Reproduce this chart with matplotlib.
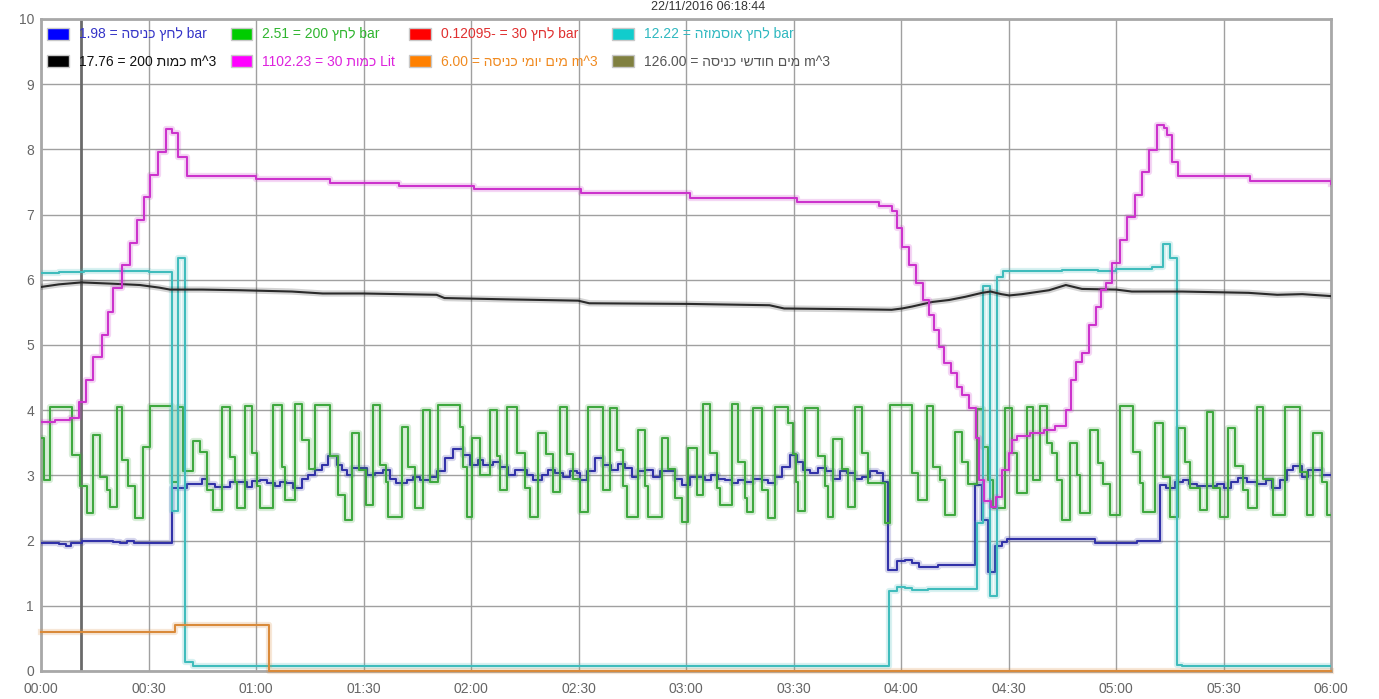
import matplotlib
matplotlib.use("Agg")
import matplotlib.pyplot as plt
import matplotlib.patheffects as pe
from matplotlib.patches import Patch

plt.rcParams['font.family'] = ['Liberation Sans', 'DejaVu Sans']


def vis(s):
    # hebrew in visual (left-to-right) order, matplotlib has no bidi
    return s[::-1]


# time in minutes from 00:00
tick_minutes = [0, 30, 60, 90, 120, 150, 180, 210, 240, 270, 300, 330, 360]
tick_labels = ["00:00", "00:30", "01:00", "01:30", "02:00", "02:30", "03:00",
               "03:30", "04:00", "04:30", "05:00", "05:30", "06:00"]
marker_time = 11.3
title_text = "22/11/2016 06:18:44"

# inlet pressure (blue)
blue_t = [0, 5.0, 7.0, 8.5, 11.5, 20, 22, 24, 26, 30, 36.6, 40.7, 44.8, 46.2, 48.6, 52.7,
          57.4, 58.8, 61.1, 63.0, 65.3, 66.7, 68.5, 70.4, 72.7, 74.6, 76.5, 78.3, 80.2,
          82.5, 83.9, 85.3, 86.7, 90.9, 93.2, 95.5, 97.4, 99.2, 102.0, 103.9, 105.7, 108.5,
          110.4, 112.7, 115.0, 117.8, 119.7, 122.0, 123.4, 126.2, 128.1, 130.4, 132.2,
          135.5, 137.4, 139.7, 141.5, 143.4, 145.7, 147.6, 149.5, 150.4, 152.3, 154.6,
          156.9, 159.2, 161.1, 163.0, 164.8, 166.7, 168.5, 170.9, 172.7, 176.9, 178.8,
          181.1, 185.3, 187.1, 189.0, 190.9, 192.7, 194.6, 196.4, 198.8, 201.1, 203.0,
          204.8, 206.7, 209.0, 210.9, 212.7, 214.6, 216.9, 219.2, 221.1, 222.9, 224.8,
          227.1, 229.0, 231.3, 233.2, 235.0, 236.4, 238.8, 241.0, 243.0, 245.0, 250.3,
          260.7, 262.6, 264.4, 266.3, 268.1, 269.5, 294.2, 305.8, 312.3, 314.0, 316.5,
          318.8, 320.5, 322.6, 328.2, 330.0, 332.0, 334.1, 336.5, 339.4, 341.8, 343.6,
          345.8, 347.7, 349.5, 352.0, 353.5, 357.5, 360]
blue_v = [1.96, 1.95, 1.92, 1.96, 2.0, 1.98, 1.96, 2.0, 1.97, 1.96, 2.80, 2.87, 2.95, 2.87,
          2.82, 2.9, 2.82, 2.92, 2.93, 2.88, 2.83, 2.90, 2.88, 2.80, 2.95, 3.01, 3.08, 3.16,
          3.29, 3.16, 3.08, 3.01, 3.11, 3.01, 3.03, 3.08, 2.95, 2.88, 2.93, 2.98, 2.93, 2.98,
          3.06, 3.26, 3.41, 3.31, 3.16, 3.24, 3.16, 3.21, 3.13, 3.01, 3.08, 3.01, 2.93, 3.01,
          3.08, 3.03, 2.98, 3.06, 3.03, 2.93, 3.06, 3.26, 3.16, 3.08, 3.18, 3.11, 2.98, 3.06,
          3.08, 2.98, 3.06, 2.95, 2.85, 2.98, 2.93, 3.01, 2.95, 2.93, 2.88, 2.93, 2.90, 2.95,
          2.93, 2.88, 2.98, 3.13, 3.31, 3.21, 3.08, 3.03, 3.11, 3.06, 2.95, 3.06, 3.03, 2.95,
          2.97, 3.06, 3.03, 2.90, 1.55, 1.68, 1.70, 1.65, 1.60, 1.63, 2.85, 2.32, 1.52, 1.91,
          1.98, 2.02, 1.97, 2.00, 2.85, 2.80, 2.90, 2.93, 2.87, 2.83, 2.87, 2.80, 2.90, 2.96,
          2.90, 2.87, 2.93, 2.80, 2.93, 3.08, 3.14, 2.98, 3.08, 3.00, 3.00]

# pressure 200 (green)
green_t = [0.0, 0.8, 2.5, 8.6, 10.9, 12.8, 14.5, 16.5, 18.4, 19.3, 21.1, 22.5, 24.3, 26.2,
           28.5, 30.4, 36.5, 38.2, 39.6, 42.4, 44.4, 46.3, 48.0, 50.5, 52.7, 54.0, 54.7,
           56.9, 58.9, 60.3, 61.0, 64.8, 67.2, 68.1, 70.9, 72.8, 74.8, 76.5, 80.7, 82.9,
           84.8, 86.8, 88.8, 90.7, 92.7, 94.6, 96.3, 96.8, 100.8, 102.4, 104.4, 106.6, 108.6,
           110.8, 116.9, 117.8, 118.9, 120.3, 122.5, 125.3, 127.3, 128.1, 130.1, 132.9,
           135.1, 136.5, 138.7, 140.9, 142.9, 144.9, 146.8, 148.5, 150.4, 152.7, 156.9,
           158.8, 160.8, 162.4, 163.6, 166.6, 168.6, 169.4, 173.3, 175.0, 177.0, 178.9,
           180.6, 183.1, 184.8, 186.7, 188.7, 189.5, 192.8, 194.6, 196.5, 197.0, 198.7,
           201.2, 202.9, 204.9, 208.5, 209.9, 210.6, 211.3, 213.2, 216.9, 218.8, 219.7,
           221.0, 223.6, 225.2, 227.2, 229.1, 230.8, 235.6, 237.0, 243.0, 244.8, 247.3,
           249.0, 250.9, 252.3, 255.1, 257.1, 258.7, 261.2, 262.9, 264.3, 265.7, 269.1,
           271.0, 272.4, 275.2, 276.9, 278.8, 280.8, 282.2, 283.6, 285.0, 287.2, 289.2,
           290.0, 292.8, 295.0, 296.4, 298.4, 301.1, 304.8, 306.7, 307.6, 310.9, 313.2,
           315.1, 317.3, 319.3, 320.7, 323.5, 325.3, 327.1, 329.1, 331.3, 333.2, 335.5,
           336.9, 339.4, 341.1, 343.9, 347.2, 351.4, 353.3, 355.0, 357.5, 358.9, 360]
green_v = [3.57, 2.93, 4.05, 3.31, 2.83, 2.42, 3.62, 2.98, 2.78, 2.52, 4.05, 3.23, 2.83, 2.35,
           3.44, 4.07, 2.9, 4.05, 3.07, 3.52, 3.36, 2.77, 2.47, 4.05, 3.28, 2.9, 2.5,
           4.07, 3.34, 2.83, 2.5, 4.08, 3.13, 2.62, 4.1, 3.54, 3.1, 4.08, 3.3, 2.7,
           2.32, 3.65, 3.08, 2.55, 4.08, 3.16, 2.9, 2.36, 3.74, 3.13, 2.5, 4.0, 2.9,
           4.08, 3.74, 3.13, 2.36, 3.57, 3.0, 4.0, 3.3, 2.78, 4.05, 3.35,
           2.8, 2.36, 3.65, 3.33, 2.75, 4.05, 3.33, 2.95, 2.44, 4.05, 2.78,
           4.03, 3.39, 2.83, 2.36, 3.7, 2.83, 2.36, 3.57, 3.1, 2.65, 2.28,
           3.42, 2.7, 4.1, 3.35, 2.8, 2.55, 4.1, 3.2, 2.65, 2.44, 4.03,
           2.78, 2.35, 4.05, 3.8, 3.33, 2.9, 2.45, 4.03, 3.3, 2.83, 2.36,
           3.56, 3.1, 2.52, 4.05, 3.35, 2.88, 2.27, 4.08, 3.04, 2.63, 4.06,
           3.13, 2.93, 2.39, 3.67, 3.2, 2.87, 4.02, 3.44, 2.93, 2.5, 4.04,
           3.34, 2.73, 4.05, 2.93, 4.06, 3.5, 3.35, 2.93, 2.32, 3.5, 3.0,
           2.42, 3.7, 3.19, 2.87, 2.39, 4.06, 3.36, 2.88, 2.44, 3.8, 2.98,
           2.36, 3.73, 3.2, 2.8, 2.47, 3.97, 2.8, 2.36, 3.73, 3.15, 2.77,
           2.5, 4.05, 2.95, 2.4, 4.05, 3.05, 2.4, 3.65, 2.9, 2.4, 2.4]

# pressure 30 (red) - below the visible range
red_t = [0, 360]
red_v = [-0.12095, -0.12095]

# osmosis pressure (cyan)
cyan_t = [0, 5, 12, 22, 30, 36.5, 38.2, 40.3, 42.4, 236.7, 238.8, 241.0, 243.2, 247.5,
          261.2, 262.9, 264.9, 266.8, 268.5, 285, 295, 300, 305, 310, 313.0, 315.0, 317.0,
          318.5, 360]
cyan_v = [6.11, 6.12, 6.13, 6.13, 6.12, 2.45, 6.33, 0.14, 0.07, 1.22, 1.29, 1.27, 1.24, 1.26,
          2.27, 5.90, 1.15, 6.05, 6.13, 6.15, 6.14, 6.17, 6.16, 6.19, 6.55, 6.33, 0.09,
          0.07, 0.07]

# quantity 200 (black)
black_t = [0, 5, 11.3, 20, 27.6, 33, 36, 45, 55.5, 70, 78.6, 90, 110.4, 112.6, 130, 149.9,
           153, 180.9, 203.3, 207.4, 225, 237.4, 240.3, 243.1, 248.7, 253.4, 258, 262.6,
           265, 268, 270.2, 273.8, 281.3, 286, 290.5, 300, 304.4, 318.4, 337, 345, 352, 360]
black_v = [5.89, 5.93, 5.96, 5.94, 5.92, 5.88, 5.85, 5.85, 5.84, 5.82, 5.79, 5.79, 5.77, 5.72,
           5.70, 5.68, 5.64, 5.63, 5.61, 5.56, 5.55, 5.54, 5.56, 5.59, 5.66, 5.69, 5.74,
           5.80, 5.82, 5.78, 5.76, 5.78, 5.84, 5.92, 5.86, 5.85, 5.82, 5.82, 5.80, 5.77,
           5.78, 5.75]

# quantity 30 (magenta)
magenta_t = [0, 4, 8, 10.6, 12.5, 14.6, 16.9, 18.8, 20.2, 22.5, 24.8, 26.7, 28.7, 30.4, 32.7,
             34.9, 36.5, 38.3, 40.7, 60, 80.7, 100, 120.7, 150.6, 181, 211, 233.9, 237.6,
             239.0, 240.4, 242.3, 244.1, 246.0, 247.9, 249.2, 250.6, 252.0, 253.9, 255.7,
             257.1, 259.0, 260.9, 261.8, 263.2, 265.1, 266.4, 268.3, 270.2, 271.1, 272.5,
             276, 280, 283, 286.0, 287.4, 288.8, 290.6, 292.5, 294.3, 295.7, 297.1, 299.0,
             301.2, 303.0, 305.4, 307.2, 309.1, 311.4, 313.3, 314.2, 315.6, 317.4, 337.4, 360]
magenta_v = [3.82, 3.85, 3.88, 4.13, 4.46, 4.82, 5.15, 5.51, 5.87, 6.23, 6.56, 6.92, 7.27,
             7.61, 7.96, 8.31, 8.25, 7.89, 7.59, 7.54, 7.49, 7.44, 7.39, 7.33, 7.26, 7.19,
             7.13, 7.05, 6.79, 6.51, 6.23, 5.95, 5.69, 5.46, 5.23, 4.97, 4.72, 4.57, 4.36,
             4.23, 4.03, 3.57, 2.93, 2.6, 2.52, 2.67, 3.08, 3.34, 3.54, 3.6, 3.65, 3.7, 3.76,
             4.0, 4.46, 4.74, 4.87, 5.31, 5.59, 5.84, 5.95, 6.26, 6.61, 6.97, 7.3, 7.66,
             7.99, 8.37, 8.33, 8.22, 7.81, 7.59, 7.52, 7.47]

# daily inlet water (orange)
orange_t = [0, 37.4, 63.7, 360]
orange_v = [0.60, 0.70, 0.0, 0.0]

# monthly inlet water (olive) - above the visible range
olive_t = [0, 360]
olive_v = [126.0, 126.0]

labels = [
    "1.98 = " + vis("לחץ כניסה") + " bar",
    "2.51 = 200 " + vis("לחץ") + " bar",
    "0.12095- = 30 " + vis("לחץ") + " bar",
    "12.22 = " + vis("לחץ אוסמוזה") + " bar",
    "17.76 = 200 " + vis("כמות") + " m^3",
    "1102.23 = 30 " + vis("כמות") + " Lit",
    "6.00 = " + vis("מים יומי כניסה") + " m^3",
    "126.00 = " + vis("מים חודשי כניסה") + " m^3",
]
box_colors = ["#0000ff", "#00cc00", "#ff0000", "#11cccc",
              "#000000", "#ff00ff", "#ff8000", "#808040"]
text_colors = ["#3535c8", "#2fb52f", "#e03030", "#2fb8c0",
               "#111111", "#dd22dd", "#f08a20", "#555555"]
line_colors = ["#3232a8", "#3fa83f", "#e03030", "#3fbcbc",
               "#2a2a2a", "#cc33cc", "#d98a3a", "#808040"]

series = [(blue_t, blue_v), (green_t, green_v), (red_t, red_v), (cyan_t, cyan_v),
          (black_t, black_v), (magenta_t, magenta_v), (orange_t, orange_v), (olive_t, olive_v)]

fig = plt.figure(figsize=(13.79, 6.99), dpi=100)
ax = fig.add_axes([41 / 1379, 28 / 699, 1290 / 1379, 652 / 699])

for i, (t, v) in enumerate(series):
    glow = [pe.Stroke(linewidth=4.5, foreground=line_colors[i], alpha=0.2), pe.Normal()]
    if i == 4:
        ax.plot(t, v, color=line_colors[i], lw=1.5, zorder=3 + i, path_effects=glow)
    else:
        ln, = ax.step(t, v, where="post", color=line_colors[i], lw=1.5, zorder=3 + i,
                      path_effects=glow)
        if i == 6:
            ln.set_clip_on(False)

ax.axvline(marker_time, color="#6a6a6a", lw=2, zorder=2)

ax.set_xlim(0, 360)
ax.set_ylim(0, 10)
ax.set_xticks(tick_minutes)
ax.set_xticklabels(tick_labels)
ax.set_yticks(range(0, 11))
ax.tick_params(length=0, labelsize=10, colors="#666666")
ax.tick_params(axis="y", pad=5)
ax.tick_params(axis="x", pad=8)
ax.grid(True, color="#a0a0a0", lw=1)
ax.set_axisbelow(True)
for s in ax.spines.values():
    s.set_color("#a8a8a8")
    s.set_linewidth(2)

# legend is filled column by column, so interleave the two rows
handles = [Patch(facecolor=c, edgecolor="#c8c8c8", lw=1) for c in box_colors]
order = [0, 4, 1, 5, 2, 6, 3, 7]
leg = ax.legend([handles[k] for k in order], [labels[k] for k in order], ncol=4,
                loc="upper left", bbox_to_anchor=(0.005, 0.987),
                frameon=False, fontsize=10, handlelength=1.58, handleheight=1.0,
                handletextpad=0.72, columnspacing=1.0, labelspacing=0.95, borderpad=0.0,
                borderaxespad=0.0)
for txt, k in zip(leg.get_texts(), order):
    txt.set_color(text_colors[k])

fig.text(708 / 1379, 1 - 1 / 699, title_text, ha="center", va="top",
         fontsize=9, color="#333333")

fig.savefig("out.png", dpi=100)
